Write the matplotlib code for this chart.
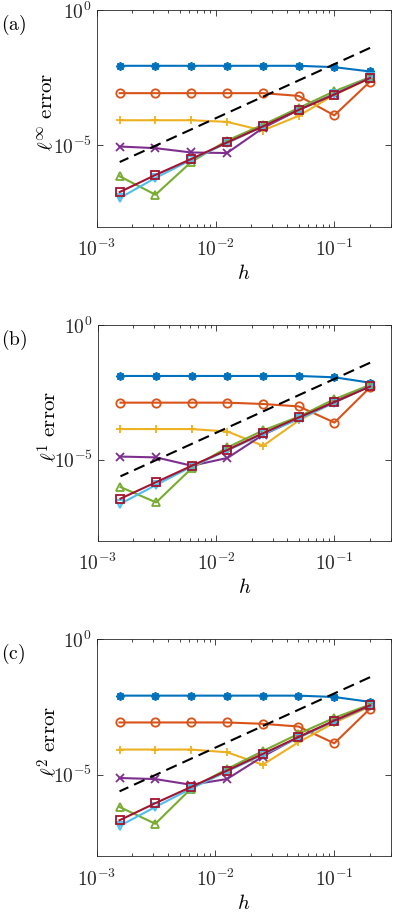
import numpy as np
import matplotlib
matplotlib.use("Agg")
import matplotlib.pyplot as plt
from matplotlib.ticker import LogLocator, NullFormatter, FixedLocator

plt.rcParams['mathtext.fontset'] = 'cm'
plt.rcParams['font.family'] = ['DejaVu Serif']

h = [0.2, 0.1, 0.05, 0.025, 0.0125, 0.00625, 0.003125, 0.0015625]

# log10 of errors, ordered as h (largest to smallest)
linf_blue   = [-2.27, -2.11, -2.06, -2.06, -2.06, -2.06, -2.06, -2.06]
linf_orange = [-2.64, -3.89, -3.17, -3.07, -3.07, -3.07, -3.07, -3.07]
linf_yellow = [-2.52, -3.13, -3.91, -4.45, -4.13, -4.07, -4.07, -4.07]
linf_purple = [-2.49, -3.10, -3.69, -4.36, -5.28, -5.26, -5.10, -5.04]
linf_green  = [-2.48, -3.00, -3.62, -4.24, -4.82, -5.61, -6.82, -6.14]
linf_cyan   = [-2.49, -3.11, -3.69, -4.30, -4.91, -5.53, -6.20, -6.94]
linf_wine   = [-2.51, -3.12, -3.69, -4.30, -4.89, -5.50, -6.09, -6.72]

l1_blue   = [-2.14, -1.94, -1.89, -1.89, -1.89, -1.89, -1.89, -1.89]
l1_orange = [-2.31, -3.62, -3.02, -2.93, -2.88, -2.88, -2.88, -2.88]
l1_yellow = [-2.25, -2.84, -3.54, -4.48, -3.95, -3.86, -3.86, -3.86]
l1_purple = [-2.26, -2.84, -3.46, -4.07, -4.93, -5.22, -4.91, -4.88]
l1_green  = [-2.22, -2.75, -3.40, -3.91, -4.54, -5.31, -6.58, -6.01]
l1_cyan   = [-2.26, -2.88, -3.49, -4.04, -4.65, -5.25, -5.93, -6.63]
l1_wine   = [-2.28, -2.86, -3.43, -4.01, -4.63, -5.22, -5.83, -6.44]

l2_blue   = [-2.31, -2.13, -2.08, -2.08, -2.08, -2.08, -2.08, -2.08]
l2_orange = [-2.56, -3.84, -3.22, -3.12, -3.07, -3.07, -3.07, -3.07]
l2_yellow = [-2.48, -3.08, -3.80, -4.63, -4.17, -4.07, -4.07, -4.07]
l2_purple = [-2.45, -3.02, -3.61, -4.33, -5.16, -5.37, -5.16, -5.12]
l2_green  = [-2.41, -2.90, -3.49, -4.13, -4.79, -5.51, -6.81, -6.19]
l2_cyan   = [-2.45, -3.02, -3.64, -4.26, -4.88, -5.51, -6.19, -6.89]
l2_wine   = [-2.44, -3.00, -3.61, -4.23, -4.85, -5.45, -6.05, -6.68]

ref_order = 2  # reference slope line h^2

panel_labels = ['(a)', '(b)', '(c)']
ylabels = [r'$\ell^\infty\ \mathrm{error}$', r'$\ell^1\ \mathrm{error}$', r'$\ell^2\ \mathrm{error}$']
panels = [
    [linf_blue, linf_orange, linf_yellow, linf_purple, linf_green, linf_cyan, linf_wine],
    [l1_blue, l1_orange, l1_yellow, l1_purple, l1_green, l1_cyan, l1_wine],
    [l2_blue, l2_orange, l2_yellow, l2_purple, l2_green, l2_cyan, l2_wine],
]

colors = ['#0072BD', '#D95319', '#EDB120', '#7E2F8E', '#77AC30', '#4DBEEE', '#A2142F']
markers = [(8, 2, 0), 'o', '+', 'x', '^', 'v', 's']

fig = plt.figure(figsize=(3.96, 9.13), dpi=100)
W, H = 396.0, 913.0
boxes = [(96.7, 10, 391, 226.7), (97.5, 325, 391, 540.7), (96.5, 639.3, 391, 856)]

fs = 14
for k, (l, t, r, b) in enumerate(boxes):
    ax = fig.add_axes([l / W, 1 - b / H, (r - l) / W, (b - t) / H])
    hh = np.array(h)
    for ys, c, m in zip(panels[k], colors, markers):
        ax.plot(hh, 10.0 ** np.array(ys), color=c, marker=m, lw=1.5, ms=6,
                mfc='none', mew=1.3)
    ax.plot(hh, hh ** ref_order, 'k--', lw=1.5, dashes=(5.5, 3))
    ax.set_xscale('log')
    ax.set_yscale('log')
    ax.set_xlim(1e-3, 0.3)
    ax.set_ylim(1e-8, 1)
    ax.xaxis.set_major_locator(FixedLocator([1e-3, 1e-2, 1e-1]))
    ax.xaxis.set_minor_locator(LogLocator(base=10, subs=np.arange(2, 10), numticks=20))
    ax.xaxis.set_minor_formatter(NullFormatter())
    ax.yaxis.set_major_locator(FixedLocator([1e-5, 1]))
    ax.yaxis.set_minor_locator(FixedLocator([]))
    ax.set_xticklabels([r'$10^{-3}$', r'$10^{-2}$', r'$10^{-1}$'])
    ax.set_yticklabels([r'$10^{-5}$', r'$10^{0}$'])
    ax.tick_params(which='both', direction='in', top=True, right=True,
                   labelsize=fs, colors='#262626', width=0.6)
    ax.tick_params(axis='x', which='major', pad=9)
    ax.tick_params(which='major', length=4)
    ax.tick_params(which='minor', length=2)
    for s in ax.spines.values():
        s.set_color('#262626')
        s.set_linewidth(0.6)
    ax.set_xlabel(r'$h$', fontsize=fs + 1)
    ax.xaxis.set_label_coords(0.5, -47.0 / (b - t))
    ax.xaxis.label.set_va('center')
    ax.set_ylabel(ylabels[k], fontsize=fs + 1)
    ax.yaxis.set_label_coords((48 - l) / (r - l), 0.53)
    ax.yaxis.label.set_va('center')
    fig.text(1 / W, 1 - (t + 3) / H, r'$\mathrm{' + panel_labels[k] + '}$',
             fontsize=fs, va='top', ha='left')

fig.savefig('out.png', dpi=100)
